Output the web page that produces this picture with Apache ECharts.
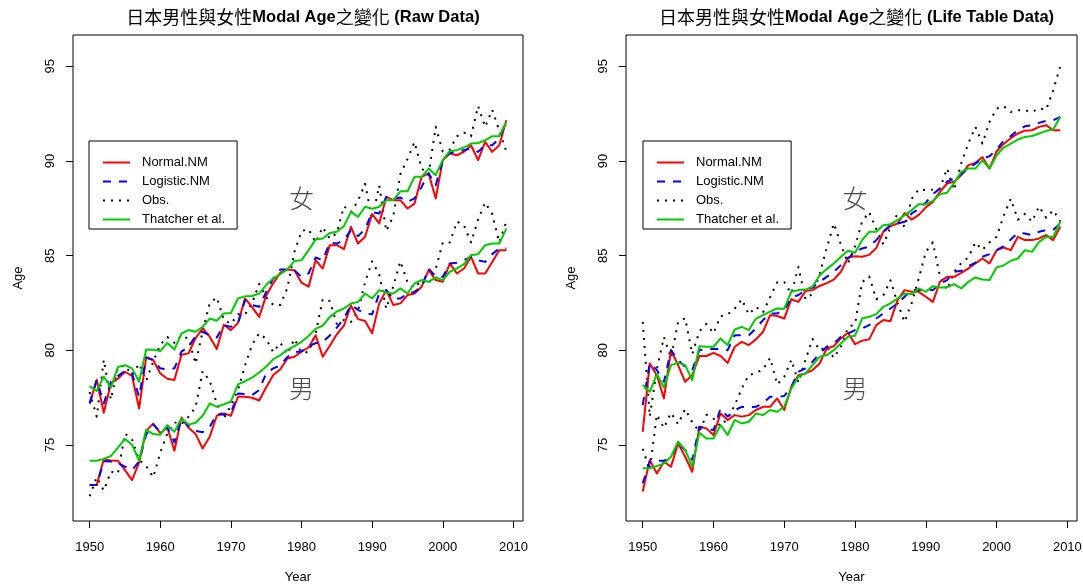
<!DOCTYPE html>
<html>
<head>
<meta charset="utf-8">
<title>日本男性與女性Modal Age之變化</title>
<script src="https://cdn.jsdelivr.net/npm/echarts@6.0.0/dist/echarts.min.js"></script>
<style>
html, body { margin: 0; padding: 0; background: #ffffff; }
#chart { width: 1083px; height: 588px; }
</style>
</head>
<body>
<div id="chart"></div>
<script>
// Calendar years on the x axis
const years = [
  1950, 1951, 1952, 1953, 1954, 1955, 1956, 1957, 1958, 1959,
  1960, 1961, 1962, 1963, 1964, 1965, 1966, 1967, 1968, 1969,
  1970, 1971, 1972, 1973, 1974, 1975, 1976, 1977, 1978, 1979,
  1980, 1981, 1982, 1983, 1984, 1985, 1986, 1987, 1988, 1989,
  1990, 1991, 1992, 1993, 1994, 1995, 1996, 1997, 1998, 1999,
  2000, 2001, 2002, 2003, 2004, 2005, 2006, 2007, 2008, 2009
];

const xTickValues = [1950, 1960, 1970, 1980, 1990, 2000, 2010];
const yTickValues = [75, 80, 85, 90, 95];

const legendNames = ['Normal.NM', 'Logistic.NM', 'Obs.', 'Thatcher et al.'];

// ---- Raw data: females ----
const rawFemaleNormal = [
  77.2, 78.45, 76.7, 78.25, 78.5, 78.87, 78.65, 76.93, 79.62, 79.49,
  78.78, 78.5, 78.43, 79.77, 79.84, 80.65, 81.16, 80.72, 80.07, 81.35,
  81.07, 81.44, 82.74, 82.28, 81.77, 82.9, 83.55, 84.1, 84.27, 84.23,
  83.57, 83.36, 84.76, 84.32, 85.55, 85.55, 85.34, 86.52, 85.64, 86.0,
  87.2, 86.7, 88.1, 87.93, 87.93, 87.49, 87.75, 89.16, 89.34, 88.02,
  90.04, 90.39, 90.3, 90.48, 90.83, 90.04, 91.01, 90.48, 90.83, 92.15
];
const rawFemaleLogistic = [
  77.2, 78.43, 77.2, 78.34, 78.64, 78.92, 78.78, 77.55, 79.63, 79.49,
  79.05, 78.99, 79.05, 79.93, 80.19, 80.75, 80.98, 80.8, 80.68, 81.33,
  81.24, 81.42, 82.65, 82.39, 82.3, 83.09, 83.8, 84.27, 84.27, 84.23,
  83.88, 84.06, 84.9, 84.76, 85.68, 85.64, 85.82, 86.35, 86.03, 86.4,
  87.3, 87.23, 88.1, 88.02, 88.07, 87.84, 88.02, 88.63, 89.34, 88.72,
  90.04, 90.43, 90.48, 90.57, 90.66, 90.48, 90.83, 90.83, 91.18, 92.15
];
const rawFemaleObs = [
  77.8, 76.5, 79.5, 77.4, 79.1, 79.2, 78.7, 79.3, 78.4, 79.4,
  80.3, 80.7, 80.4, 80.8, 80.6, 79.3, 81.0, 82.5, 82.8, 81.6,
  81.4, 81.9, 81.9, 82.5, 83.5, 82.8, 82.4, 82.4, 83.3, 85.2,
  86.3, 86.4, 85.7, 86.5, 85.9, 86.2, 87.6, 87.3, 87.9, 88.8,
  86.9, 88.7, 86.3, 87.1, 89.3, 90.1, 91.0, 89.6, 89.3, 91.8,
  90.5, 90.6, 91.3, 91.5, 91.3, 92.9, 91.8, 92.7, 91.6, 90.5
];
const rawFemaleThatcher = [
  78.1, 77.86, 78.62, 78.03, 79.12, 79.22, 79.05, 78.34, 80.04, 80.03,
  79.96, 80.39, 80.05, 80.89, 81.07, 80.98, 81.24, 81.68, 81.56, 81.95,
  81.97, 82.74, 82.85, 82.87, 83.0, 83.46, 83.8, 84.02, 84.28, 84.72,
  84.76, 85.29, 85.85, 85.91, 86.2, 86.26, 86.56, 87.31, 87.05, 87.58,
  87.47, 87.58, 87.93, 87.93, 88.4, 88.4, 89.16, 89.16, 89.6, 89.25,
  90.04, 90.53, 90.57, 90.71, 90.92, 90.95, 91.09, 91.31, 91.31, 92.06
];

// ---- Raw data: males ----
const rawMaleNormal = [
  72.89, 72.89, 74.25, 74.19, 74.17, 73.68, 73.15, 74.08, 75.75, 76.13,
  75.63, 75.93, 74.7, 76.45, 75.92, 75.58, 74.82, 75.44, 76.55, 76.67,
  76.55, 77.55, 77.55, 77.5, 77.35, 78.05, 78.7, 79.0, 79.57, 79.66,
  79.93, 80.15, 80.8, 79.66, 80.24, 80.85, 81.3, 82.37, 81.65, 81.55,
  80.9, 82.48, 83.18, 82.39, 82.48, 82.92, 83.0, 83.36, 84.24, 83.71,
  83.62, 84.59, 84.06, 84.32, 84.94, 84.06, 84.06, 84.67, 85.29, 85.29
];
const rawMaleLogistic = [
  72.89, 72.89, 74.15, 74.13, 74.05, 73.86, 73.68, 74.14, 75.55, 76.08,
  75.7, 75.93, 75.15, 76.4, 76.0, 75.75, 75.68, 75.95, 76.65, 76.6,
  76.7, 77.72, 77.7, 77.64, 77.9, 78.8, 79.05, 79.2, 79.65, 79.9,
  79.95, 80.22, 80.38, 80.45, 80.78, 81.2, 81.68, 82.4, 82.14, 81.95,
  81.9, 83.0, 83.18, 82.74, 82.74, 83.0, 83.09, 83.36, 84.32, 83.88,
  83.88, 84.59, 84.62, 84.76, 84.94, 84.76, 84.67, 85.08, 85.38, 85.38
];
const rawMaleObs = [
  72.3, 73.3, 72.6, 73.6, 73.5, 75.6, 75.3, 74.2, 73.9, 73.3,
  74.6, 75.6, 76.2, 76.1, 76.5, 77.0, 78.9, 78.4, 77.2, 76.4,
  77.1, 77.9, 79.2, 80.3, 80.9, 80.6, 79.9, 80.4, 79.8, 80.6,
  79.9, 79.9, 80.9, 82.7, 82.6, 81.4, 81.6, 81.5, 82.1, 83.6,
  84.7, 84.0, 82.2, 83.4, 84.7, 83.6, 83.3, 83.7, 83.5, 84.3,
  85.7, 85.7, 86.8, 86.6, 85.7, 86.9, 87.8, 87.2, 85.7, 86.8
];
const rawMaleThatcher = [
  74.17, 74.17, 74.27, 74.42, 74.86, 75.32, 75.02, 74.17, 75.81, 75.58,
  75.55, 76.05, 75.7, 76.4, 76.08, 76.18, 76.55, 77.2, 77.02, 77.15,
  77.3, 78.2, 78.37, 78.56, 78.83, 79.15, 79.53, 79.75, 80.03, 80.22,
  80.45, 80.76, 81.15, 81.3, 81.77, 82.05, 82.21, 82.47, 82.56, 83.0,
  82.74, 83.18, 83.04, 83.0, 83.27, 83.0, 83.53, 83.71, 83.62, 83.85,
  83.71, 84.15, 84.32, 84.55, 85.03, 85.08, 85.55, 85.64, 85.64, 86.43
];

// ---- Life table data: females ----
const ltFemaleNormal = [
  75.7, 79.31, 78.69, 77.46, 80.01, 79.22, 78.34, 78.69, 79.7, 79.7,
  79.87, 79.7, 79.34, 80.19, 80.45, 80.28, 80.58, 80.98, 81.86, 81.81,
  81.68, 82.7, 82.56, 83.13, 83.18, 83.4, 83.55, 83.73, 84.15, 84.9,
  84.97, 84.94, 85.04, 85.4, 86.27, 86.56, 86.7, 87.25, 86.9, 87.15,
  87.55, 87.84, 88.37, 88.81, 88.9, 89.25, 89.78, 89.9, 90.2, 89.6,
  90.5, 90.9, 91.2, 91.45, 91.6, 91.62, 91.8, 91.89, 91.62, 91.62
];
const ltFemaleLogistic = [
  77.11, 79.31, 78.96, 78.34, 80.01, 79.49, 79.13, 78.96, 80.01, 80.07,
  80.07, 80.07, 80.01, 80.8, 80.8, 80.8, 81.16, 81.6, 81.95, 81.95,
  82.12, 82.79, 82.92, 83.18, 83.32, 83.62, 83.88, 84.15, 84.5, 84.85,
  85.2, 85.38, 85.47, 85.82, 86.26, 86.61, 86.7, 86.79, 87.23, 87.45,
  87.8, 88.25, 88.54, 88.9, 89.07, 89.3, 89.6, 89.86, 90.13, 90.25,
  90.6, 91.06, 91.31, 91.62, 91.83, 91.89, 92.01, 92.12, 92.15, 92.33
];
const ltFemaleObs = [
  81.5, 76.5, 79.0, 80.7, 79.6, 81.5, 81.7, 79.8, 81.0, 81.4,
  80.9, 81.8, 81.9, 82.2, 82.7, 81.9, 82.3, 82.0, 82.8, 83.6,
  83.6, 83.0, 84.4, 82.7, 83.0, 84.0, 85.4, 86.7, 85.6, 84.6,
  85.5, 86.8, 87.3, 86.4, 85.6, 86.5, 87.2, 86.5, 88.0, 88.5,
  88.46, 88.49, 88.54, 89.6, 88.46, 89.86, 90.92, 91.8, 90.92, 92.06,
  92.77, 92.89, 92.59, 92.68, 92.68, 92.59, 92.77, 92.71, 93.73, 95.0
];
const ltFemaleThatcher = [
  78.17, 77.81, 78.75, 78.04, 79.22, 79.34, 79.22, 78.43, 80.22, 80.19,
  80.19, 80.63, 80.28, 81.1, 81.24, 81.07, 81.68, 81.86, 82.04, 82.21,
  82.2, 83.09, 83.18, 83.21, 83.36, 83.97, 84.29, 84.59, 84.94, 85.26,
  85.15, 85.82, 86.26, 86.26, 86.61, 86.66, 86.87, 87.14, 87.4, 87.72,
  87.72, 87.89, 88.25, 88.32, 88.84, 89.42, 89.6, 89.6, 90.04, 89.6,
  90.3, 90.71, 90.92, 91.13, 91.27, 91.32, 91.45, 91.59, 91.66, 92.33
];

// ---- Life table data: males ----
const ltMaleNormal = [
  72.54, 74.21, 73.5, 74.12, 73.86, 75.09, 74.38, 73.59, 75.97, 75.88,
  75.53, 76.67, 76.32, 76.58, 76.5, 76.58, 76.85, 77.02, 77.02, 77.46,
  76.85, 78.08, 78.69, 78.78, 78.96, 79.31, 80.1, 80.22, 80.63, 80.93,
  80.33, 80.51, 80.58, 81.33, 81.6, 81.54, 82.65, 83.18, 83.09, 83.09,
  82.83, 82.56, 83.62, 83.88, 83.88, 84.09, 84.32, 84.59, 84.85, 84.59,
  85.29, 85.43, 85.29, 85.99, 85.82, 85.82, 85.91, 86.08, 85.82, 86.52
];
const ltMaleLogistic = [
  72.98, 74.12, 74.17, 74.17, 74.38, 75.09, 74.74, 74.21, 75.97, 75.88,
  75.79, 76.93, 76.5, 76.85, 77.02, 76.99, 77.02, 77.2, 77.55, 77.55,
  77.59, 78.08, 78.87, 79.05, 79.4, 79.84, 80.19, 80.36, 80.72, 80.89,
  81.07, 81.16, 81.33, 81.68, 81.95, 82.21, 82.48, 82.83, 83.18, 83.2,
  83.18, 83.18, 83.53, 83.71, 84.15, 84.2, 84.45, 84.62, 84.94, 85.08,
  85.29, 85.5, 85.85, 86.2, 86.17, 86.08, 86.26, 86.35, 86.35, 86.7
];
const ltMaleObs = [
  74.8, 73.7, 76.6, 75.9, 76.7, 76.1, 76.9, 76.2, 75.7, 76.6,
  76.4, 76.0, 76.4, 77.1, 78.0, 78.7, 78.8, 79.0, 79.6, 78.2,
  78.6, 79.5, 78.3, 79.5, 80.6, 80.0, 80.2, 79.6, 80.2, 81.2,
  81.4, 83.6, 83.9, 82.7, 82.9, 83.7, 82.5, 81.5, 82.5, 83.8,
  85.2, 85.7, 83.9, 83.2, 84.15, 84.6, 84.9, 85.7, 85.3, 85.7,
  86.0, 87.1, 88.0, 86.9, 87.2, 86.8, 87.6, 87.0, 87.4, 86.8
];
const ltMaleThatcher = [
  73.77, 73.77, 73.89, 74.03, 74.38, 75.18, 74.74, 73.86, 75.65, 75.35,
  75.35, 76.06, 75.53, 76.32, 76.14, 76.23, 76.67, 76.58, 76.85, 76.76,
  77.02, 77.99, 78.61, 78.78, 79.22, 79.66, 79.75, 80.01, 80.36, 80.72,
  80.77, 81.68, 81.77, 81.91, 82.3, 82.48, 82.74, 83.0, 82.97, 83.27,
  83.09, 83.39, 83.32, 83.32, 83.5, 83.27, 83.62, 83.85, 83.74, 83.71,
  84.38, 84.48, 84.73, 84.85, 85.29, 85.2, 85.73, 85.99, 85.99, 86.79
];

// In-plot sex labels: [year, age, text]
const sexLabels = [[1980, 88, '女'], [1980, 78, '男']];

const panelTitles = [
  ['日本男性與女性', 'Modal Age', '之變化', ' (Raw Data)'],
  ['日本男性與女性', 'Modal Age', '之變化', ' (Life Table Data)']
];

const LATIN = "'Liberation Sans', Arial, sans-serif";
const CJK = "'Noto Sans CJK TC', 'Noto Sans CJK SC', sans-serif";

const COLORS = { normal: '#FF0000', logistic: '#0000FF', obs: '#000000', thatcher: '#00CD00' };
const DASH = { normal: 'solid', logistic: [8, 8], obs: [2, 6], thatcher: 'solid' };

const panels = [
  { left: 73, width: 450, female: [rawFemaleNormal, rawFemaleLogistic, rawFemaleObs, rawFemaleThatcher],
    male: [rawMaleNormal, rawMaleLogistic, rawMaleObs, rawMaleThatcher], legendLeft: 89 },
  { left: 626, width: 451, female: [ltFemaleNormal, ltFemaleLogistic, ltFemaleObs, ltFemaleThatcher],
    male: [ltMaleNormal, ltMaleLogistic, ltMaleObs, ltMaleThatcher], legendLeft: 643 }
];

const keys = ['normal', 'logistic', 'obs', 'thatcher'];
// drawing order: observed first, fitted curves above
const drawOrder = [2, 0, 1, 3];

function lineSeries(name, key, gi, values) {
  return {
    name: name,
    type: 'line',
    xAxisIndex: gi,
    yAxisIndex: gi,
    data: years.map((y, i) => [y, values[i]]),
    symbol: 'none',
    showSymbol: false,
    silent: true,
    itemStyle: { color: COLORS[key] },
    lineStyle: { color: COLORS[key], width: 2, type: DASH[key], cap: 'butt', join: 'round' }
  };
}

const plainNumber = (v) => String(v);

const grids = [], xAxes = [], yAxes = [], series = [], legends = [], titles = [];

panels.forEach((p, gi) => {
  grids.push({
    left: p.left, top: 35, width: p.width, height: 486,
    show: true, borderColor: '#000', borderWidth: 1, backgroundColor: 'transparent',
    containLabel: false, outerBoundsMode: 'none'
  });
  xAxes.push({
    type: 'value', gridIndex: gi,
    min: 1947.64, max: 2011.36,
    name: 'Year', nameLocation: 'middle', nameGap: 50,
    nameTextStyle: { color: '#000', fontSize: 13, fontFamily: LATIN },
    axisLine: { show: false },
    axisTick: { show: true, inside: false, length: 7, customValues: xTickValues, lineStyle: { color: '#000', width: 1 } },
    axisLabel: { show: true, customValues: xTickValues, formatter: plainNumber, margin: 20, color: '#000', fontSize: 13, fontFamily: LATIN },
    splitLine: { show: false }
  });
  yAxes.push({
    type: 'value', gridIndex: gi,
    min: 70.99, max: 96.65,
    name: 'Age', nameLocation: 'middle', nameGap: 48,
    nameTextStyle: { color: '#000', fontSize: 13, fontFamily: LATIN },
    axisLine: { show: false },
    axisTick: { show: true, inside: false, length: 7, customValues: yTickValues, lineStyle: { color: '#000', width: 1 } },
    axisLabel: { show: true, customValues: yTickValues, formatter: plainNumber, rotate: 90, margin: 16, color: '#000', fontSize: 13, fontFamily: LATIN },
    splitLine: { show: false }
  });

  drawOrder.forEach(k => {
    series.push(lineSeries(legendNames[k], keys[k], gi, p.female[k]));
    series.push(lineSeries(legendNames[k], keys[k], gi, p.male[k]));
  });

  series.push({
    type: 'scatter', xAxisIndex: gi, yAxisIndex: gi,
    data: sexLabels, symbolSize: 0, silent: true, z: 5,
    label: {
      show: true, position: 'inside', formatter: (prm) => prm.value[2],
      color: '#1a1a1a', fontSize: 25, fontFamily: CJK, fontWeight: 300
    }
  });

  legends.push({
    orient: 'vertical', left: p.legendLeft, top: 141,
    data: legendNames, selectedMode: false,
    itemWidth: 27, itemHeight: 12, itemGap: 6,
    padding: [15, 12, 3, 13],
    borderColor: '#000', borderWidth: 1, backgroundColor: '#fff',
    itemStyle: { opacity: 0 },
    formatter: (n) => '{t|' + n + '}',
    textStyle: {
      color: '#000', fontSize: 13, fontFamily: LATIN,
      rich: { t: { color: '#000', fontSize: 13, fontFamily: LATIN, padding: [0, 0, 0, 7] } }
    }
  });

  const t = panelTitles[gi];
  titles.push({
    text: '{c|' + t[0] + '}{b|' + t[1] + '}{c|' + t[2] + '}{b|' + t[3] + '}',
    left: p.left + p.width / 2, top: 3, textAlign: 'center',
    textStyle: {
      rich: {
        c: { fontFamily: CJK, fontSize: 18, fontWeight: 'normal', color: '#000' },
        b: { fontFamily: LATIN, fontSize: 16.5, fontWeight: 'bold', color: '#000' }
      }
    }
  });
});

const chart = echarts.init(document.getElementById('chart'), null, { renderer: 'canvas' });
chart.setOption({
  animation: false,
  backgroundColor: '#ffffff',
  textStyle: { fontFamily: LATIN },
  title: titles,
  legend: legends,
  grid: grids,
  xAxis: xAxes,
  yAxis: yAxes,
  series: series
});
</script>
</body>
</html>
